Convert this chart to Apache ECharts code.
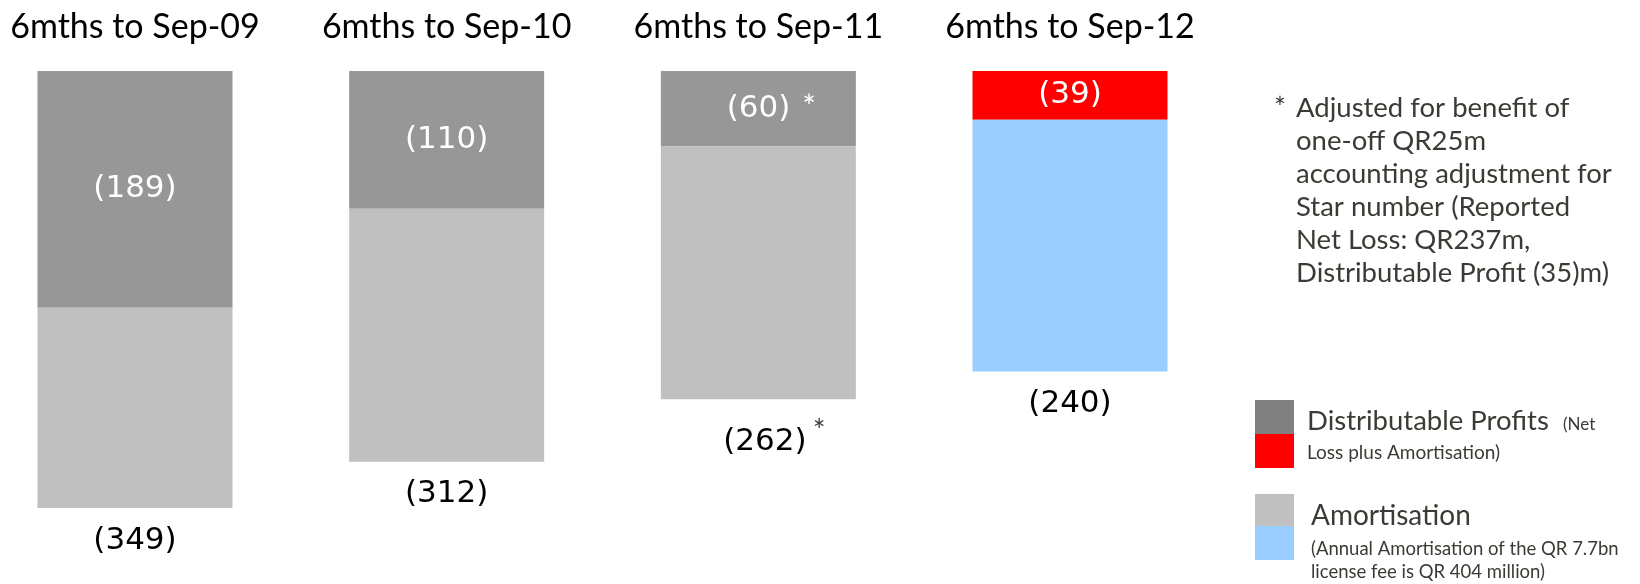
<!DOCTYPE html>
<html>
<head>
<meta charset="utf-8">
<script src="https://cdn.jsdelivr.net/npm/echarts@6/dist/echarts.min.js"></script>
<style>
  html, body { margin: 0; padding: 0; background: #fff; }
  #main { width: 1640px; height: 584px; }
</style>
</head>
<body>
<div id="main"></div>
<script>
var categories = ['6mths to Sep-09', '6mths to Sep-10', '6mths to Sep-11', '6mths to Sep-12'];
var distributable = [189, 110, 60, 39];   // top part of each bar
var amortisation = [160, 202, 202, 201];  // bottom part
var notes = ['', '', '*', ''];            // adjusted periods
var topColors = ['#979797', '#979797', '#979797', '#ff0000'];
var bottomColors = ['#c0c0c0', '#c0c0c0', '#c0c0c0', '#99ccff'];

var font = 'Lato';
var numFont = 'DejaVu Sans';
var textColor = '#3b3b35';

var myChart = echarts.init(document.getElementById('main'));

var option = {
  animation: false,
  grid: { left: 135, right: 570, top: 71, bottom: 12 },
  xAxis: {
    type: 'category',
    position: 'top',
    boundaryGap: false,
    data: categories,
    axisLine: { show: false },
    axisTick: { show: false },
    axisLabel: {
      interval: 0,
      hideOverlap: false,
      margin: 44,
      verticalAlign: 'middle',
      fontFamily: font,
      fontSize: 34,
      color: '#000'
    }
  },
  yAxis: {
    type: 'value',
    inverse: true,
    min: 0,
    max: 400,
    show: false
  },
  series: [{
    name: 'Distributable Profits',
    type: 'bar',
    stack: 'loss',
    barWidth: 195,
    data: distributable.map(function (v, i) {
      var item = { value: v, itemStyle: { color: topColors[i] } };
      if (notes[i]) item.label = { offset: [13, 0] };
      return item;
    }),
    label: {
      show: true,
      position: 'inside',
      color: '#fff',
      fontFamily: numFont,
      fontSize: 31,
      formatter: function (p) {
        var n = notes[p.dataIndex];
        return '(' + p.value + ')' + (n ? '{sup|' + n + '}' : '');
      },
      rich: {
        sup: { fontSize: 32, fontFamily: font, color: '#fff', padding: [0, 0, 2, 12] }
      }
    }
  }, {
    name: 'Amortisation',
    type: 'bar',
    stack: 'loss',
    barWidth: 195,
    data: amortisation.map(function (v, i) {
      var item = { value: v, itemStyle: { color: bottomColors[i] } };
      if (notes[i]) item.label = { offset: [16, 0] };
      return item;
    }),
    label: {
      show: true,
      position: 'bottom',
      distance: 17,
      color: '#000',
      fontFamily: numFont,
      fontSize: 31,
      formatter: function (p) {
        var total = distributable[p.dataIndex] + amortisation[p.dataIndex];
        var n = notes[p.dataIndex];
        return '(' + total + ')' + (n ? '{sup|' + n + '}' : '');
      },
      rich: {
        sup: { fontSize: 30, fontFamily: font, color: textColor, padding: [0, 0, 22, 6] }
      }
    }
  }],
  graphic: [
    {
      type: 'text', left: 1274, top: 92,
      style: { text: '*', font: '28px ' + font, fill: textColor, lineHeight: 33 }
    },
    {
      type: 'text', left: 1296, top: 92,
      style: {
        text: 'Adjusted for benefit of\none-off QR25m\naccounting adjustment for\nStar number (Reported\nNet Loss: QR237m,\nDistributable Profit (35)m)',
        font: '27.5px ' + font, fill: textColor, lineHeight: 33
      }
    },
    { type: 'rect', shape: { x: 1255, y: 400, width: 39, height: 34 }, style: { fill: '#808080' } },
    { type: 'rect', shape: { x: 1255, y: 434, width: 39, height: 34 }, style: { fill: '#ff0000' } },
    { type: 'rect', shape: { x: 1255, y: 494, width: 39, height: 32 }, style: { fill: '#c0c0c0' } },
    { type: 'rect', shape: { x: 1255, y: 526, width: 39, height: 34 }, style: { fill: '#99ccff' } },
    {
      type: 'text', left: 1307, top: 407,
      style: { text: 'Distributable Profits', font: '27.5px ' + font, fill: textColor }
    },
    {
      type: 'text', left: 1563, top: 416,
      style: { text: '(Net', font: '17px ' + font, fill: textColor }
    },
    {
      type: 'text', left: 1307, top: 443,
      style: { text: 'Loss plus Amortisation)', font: '19px ' + font, fill: textColor }
    },
    {
      type: 'text', left: 1311, top: 502,
      style: { text: 'Amortisation', font: '28px ' + font, fill: textColor }
    },
    {
      type: 'text', left: 1311, top: 538,
      style: { text: '(Annual Amortisation of the QR 7.7bn\nlicense fee is QR 404 million)', font: '18.5px ' + font, fill: textColor, lineHeight: 23 }
    }
  ]
};

myChart.setOption(option);
</script>
</body>
</html>
